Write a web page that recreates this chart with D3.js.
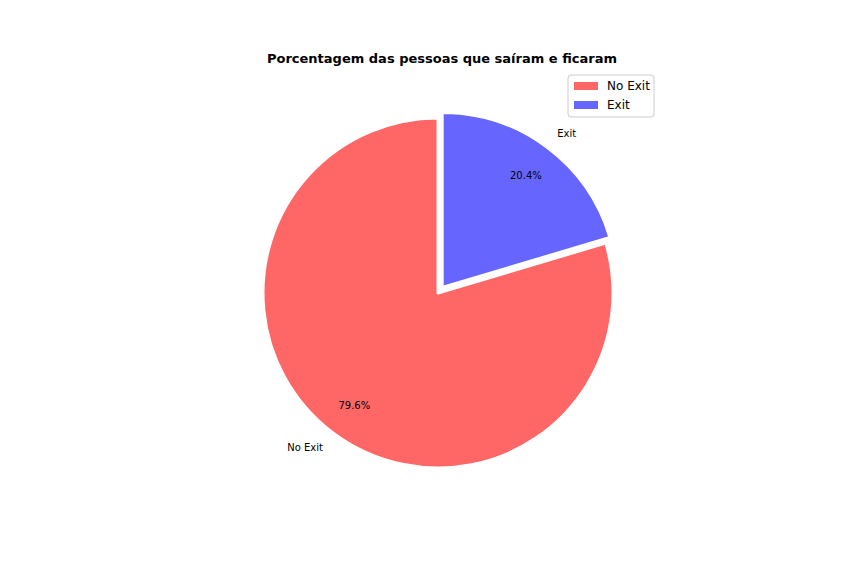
<!DOCTYPE html>
<html><head><meta charset="utf-8">
<script src="https://cdn.jsdelivr.net/npm/d3@7"></script>
<style>body{margin:0;background:#fff}text{font-family:"DejaVu Sans",sans-serif}</style>
</head><body>
<svg id="c" width="864" height="576"></svg>
<script>
const labels = ["No Exit", "Exit"];
const values = [79.6, 20.4];
const colors = ["#ff6666", "#6666ff"];
const explode = [0, 0.04];

const svg = d3.select("#c");
const cx = 438, cy = 293, r = 175;
svg.append("text").attr("x", 442).attr("y", 63).attr("text-anchor", "middle")
  .attr("font-size", 13).attr("font-weight", "bold").text("Porcentagem das pessoas que saíram e ficaram");

// matplotlib: startangle 90, counterclockwise
const total = d3.sum(values);
const scale = d3.scaleLinear().domain([0, total]).range([0, 2 * Math.PI]);
let acc = 0;
const arc = d3.arc().innerRadius(0).outerRadius(r);
values.forEach((v, i) => {
  // d3 angle: 0 at top, clockwise. counterclockwise => negative
  const a0 = -scale(acc), a1 = -scale(acc + v);
  acc += v;
  const mid = (a0 + a1) / 2;
  const dx = Math.sin(mid), dy = -Math.cos(mid);
  const ox = cx + dx * explode[i] * r, oy = cy + dy * explode[i] * r;
  const g = svg.append("g").attr("transform", `translate(${ox},${oy})`);
  g.append("path").attr("d", arc({startAngle: a1, endAngle: a0}))
    .attr("fill", colors[i]).attr("stroke", "#fff").attr("stroke-width", 3).attr("stroke-linejoin", "round");
  const lx = dx * 1.1 * r, ly = dy * 1.1 * r;
  g.append("text").attr("x", lx).attr("y", ly).attr("dy", "0.35em")
    .attr("text-anchor", dx < 0 ? "end" : "start").attr("font-size", 10).text(labels[i]);
  g.append("text").attr("x", dx * 0.8 * r).attr("y", dy * 0.8 * r).attr("dy", "0.35em")
    .attr("text-anchor", "middle").attr("font-size", 10).text(v.toFixed(1) + "%");
});

const lg = svg.append("g").attr("transform", "translate(568,75)");
lg.append("rect").attr("width", 86).attr("height", 42).attr("rx", 3)
  .attr("fill", "#fff").attr("stroke", "#ccc");
labels.forEach((l, i) => {
  lg.append("rect").attr("x", 6).attr("y", 7 + i * 19).attr("width", 24).attr("height", 8).attr("fill", colors[i]);
  lg.append("text").attr("x", 39).attr("y", 11 + i * 19).attr("dy", "0.35em").attr("font-size", 12).text(l);
});
</script>
</body></html>
